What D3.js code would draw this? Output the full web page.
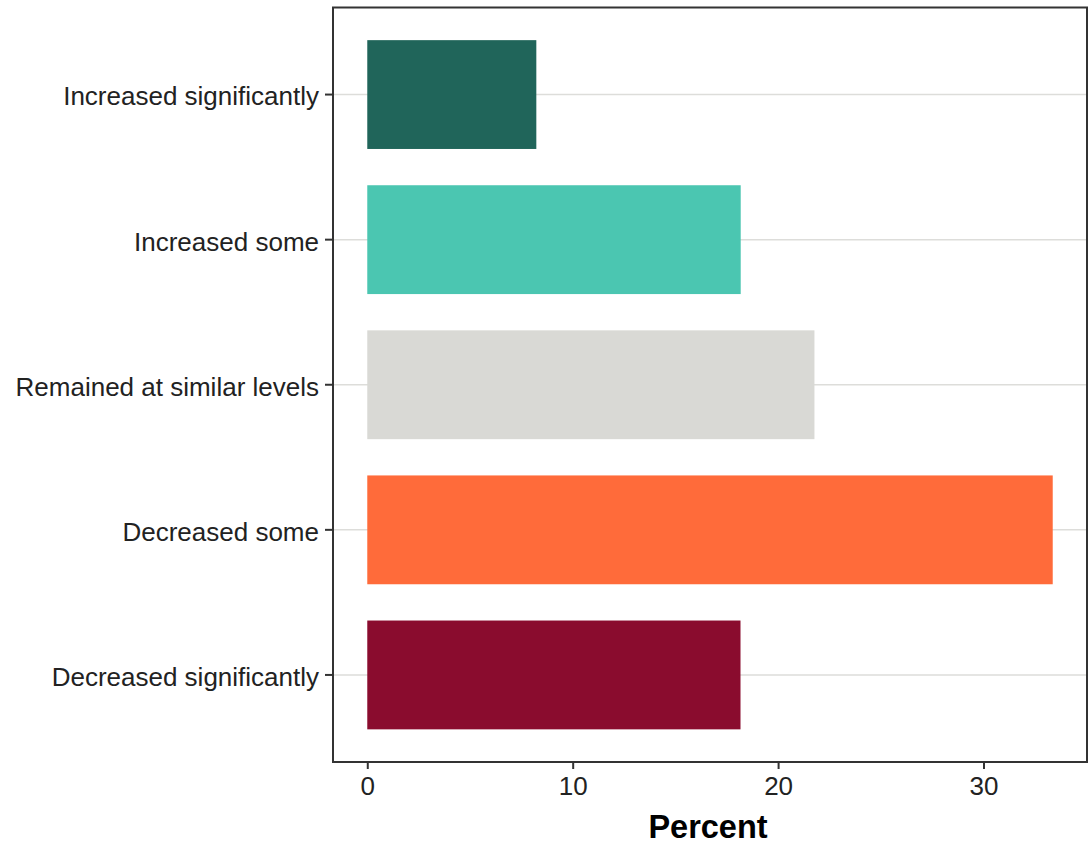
<!DOCTYPE html>
<html><head><meta charset="utf-8">
<script src="https://cdn.jsdelivr.net/npm/d3@7"></script>
<style>body{margin:0;background:#fff;} text{font-family:"Liberation Sans",Arial,sans-serif;}</style>
</head><body>
<svg id="chart" width="1089" height="851"></svg>
<script>
const categories = ["Increased significantly","Increased some","Remained at similar levels","Decreased some","Decreased significantly"];
const values = [8.23, 18.18, 21.77, 33.37, 18.17];
const colors = ["#20655A","#4BC6B1","#D9D9D5","#FF6B3A","#8A0C2E"];
const xTicks = [0,10,20,30];
const xTitle = "Percent";

const svg = d3.select("#chart");
const L = 333, R = 1087, T = 7.5, B = 762;
const maxV = d3.max(values), pad = maxV*0.05;
const x = d3.scaleLinear().domain([-pad, maxV+pad]).range([L, R]);
const y = d3.scaleBand().domain(categories).range([T, B]).paddingInner(0.25).paddingOuter(0.225);
const yc = d => y(d) + y.bandwidth()/2;

// gridlines
svg.append("g").selectAll("line").data(categories).join("line")
  .attr("x1", L).attr("x2", R).attr("y1", d=>yc(d)).attr("y2", d=>yc(d))
  .attr("stroke","#DDDDDA").attr("stroke-width",1.5);

// bars
svg.append("g").selectAll("rect").data(categories).join("rect")
  .attr("x", x(0)).attr("y", d=>y(d))
  .attr("width", (d,i)=>x(values[i])-x(0)).attr("height", y.bandwidth())
  .attr("fill", (d,i)=>colors[i]);

// panel border
svg.append("rect").attr("x",L).attr("y",T).attr("width",R-L).attr("height",B-T)
  .attr("fill","none").attr("stroke","#333").attr("stroke-width",2);

// x axis
const xa = svg.append("g").attr("transform",`translate(0,${B})`)
  .call(d3.axisBottom(x).tickValues(xTicks).tickSize(7).tickPadding(8).tickFormat(d3.format("d")));
xa.select(".domain").remove();
xa.selectAll("line").attr("stroke","#333").attr("stroke-width",2);
xa.selectAll("text").attr("font-size",26).attr("fill","#222").attr("font-family","Liberation Sans, Arial, sans-serif");

// y axis
const ya = svg.append("g").attr("transform",`translate(${L},0)`)
  .call(d3.axisLeft(y).tickSize(8).tickPadding(6));
ya.select(".domain").remove();
ya.selectAll("line").attr("stroke","#333").attr("stroke-width",2);
ya.selectAll("text").attr("font-size",26).attr("dy","0.42em").attr("fill","#222").attr("font-family","Liberation Sans, Arial, sans-serif");

svg.append("text").attr("x",(L+R)/2 - 2).attr("y",838).attr("text-anchor","middle")
  .attr("font-size",32.5).attr("font-weight","bold").attr("fill","#000").text(xTitle);
</script>
</body></html>
